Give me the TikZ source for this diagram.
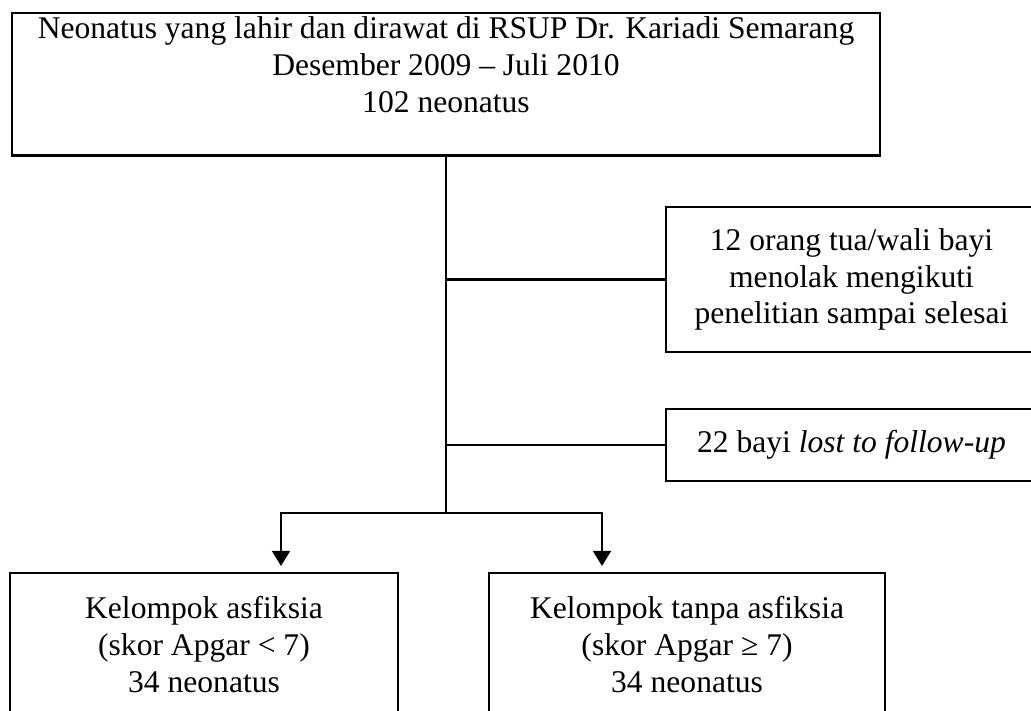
\documentclass[tikz,border=0pt]{standalone}
\usepackage{fontspec}
\setmainfont{Liberation Serif}
\usetikzlibrary{arrows.meta,positioning}
\tikzset{
  box/.style={draw=black, line width=0.8pt, align=center, inner sep=3pt, font=\fontsize{12}{14}\selectfont},
  link/.style={line width=0.8pt},
  splitarrow/.style={{Triangle[length=5.7pt,width=6.8pt]}-{Triangle[length=5.7pt,width=6.8pt]}, line width=0.8pt, shorten <=2.3pt, shorten >=2.3pt}
}
\begin{document}
\begin{tikzpicture}[x=0.38pt, y=-0.38pt, node distance=8mm]
\useasboundingbox (0,0) rectangle (1031,710);
\node[box, anchor=north, minimum width=329.84pt, inner ysep=1.4pt, text depth=15pt] (pop) at (446,12)
  {Neonatus yang lahir dan dirawat di RSUP Dr. Kariadi Semarang\\Desember 2009 – Juli 2010\\102 neonatus};
\node[box, minimum width=141pt, minimum height=55.1pt] (ex1) at (851.5,279.5)
  {12 orang tua/wali bayi\\menolak mengikuti\\penelitian sampai selesai};
\node[box, minimum width=141pt, minimum height=27.36pt, below=20.9pt of ex1] (ex2)
  {22 bayi \textit{lost to follow-up}};
\node[box, anchor=north, minimum width=147.44pt, minimum height=54.5pt] (asf) at (204,572)
  {Kelompok asfiksia\\(skor Apgar < 7)\\34 neonatus};
\node[box, minimum width=150.48pt, minimum height=54.5pt, right=33.8pt of asf] (nonasf)
  {Kelompok tanpa asfiksia\\(skor Apgar ≥ 7)\\34 neonatus};
% cabang
\coordinate (forkL) at (281,513);
\coordinate (forkR) at (602,513);
\draw[link] (pop.south) -- (pop.south |- forkL);
\draw[link] (pop.south |- ex1.west) -- (ex1.west);
\draw[link] (pop.south |- ex2.west) -- (ex2.west);
\draw[splitarrow] (forkL |- asf.north) -- (forkL) -- (forkR) -- (forkR |- nonasf.north);
\end{tikzpicture}
\end{document}
